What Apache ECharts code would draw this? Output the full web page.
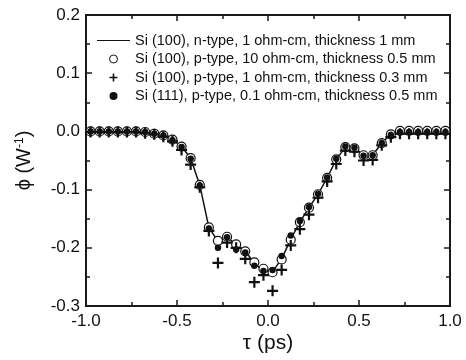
<!DOCTYPE html>
<html>
<head>
<meta charset="utf-8">
<script src="https://cdn.jsdelivr.net/npm/echarts@6/dist/echarts.min.js"></script>
<style>
  html, body { margin: 0; padding: 0; background: #fff; }
  #chart { width: 466px; height: 360px; }
</style>
</head>
<body>
<div id="chart"></div>
<script>
// delay values (ps)
var tau = [-0.975, -0.925, -0.875, -0.825, -0.775, -0.725, -0.675, -0.625, -0.575, -0.525,
  -0.475, -0.425, -0.375, -0.325, -0.275, -0.225, -0.175, -0.125, -0.075, -0.025,
  0.025, 0.075, 0.125, 0.175, 0.225, 0.275, 0.325, 0.375, 0.425, 0.475,
  0.525, 0.575, 0.625, 0.675, 0.725, 0.775, 0.825, 0.875, 0.925, 0.975];

// Si (100), n-type, 1 ohm-cm, 1 mm  (line)
var nType1 = [0.000, 0.000, 0.000, 0.000, 0.000, 0.000, -0.001, -0.004, -0.007, -0.014,
  -0.026, -0.046, -0.092, -0.165, -0.189, -0.181, -0.195, -0.206, -0.226, -0.240,
  -0.241, -0.219, -0.185, -0.156, -0.131, -0.108, -0.080, -0.048, -0.027, -0.029,
  -0.041, -0.041, -0.020, -0.005, 0.000, 0.000, 0.000, 0.000, 0.000, 0.000];

// Si (100), p-type, 10 ohm-cm, 0.5 mm  (open circles)
var pType10 = [0.000, 0.000, 0.000, 0.000, 0.000, 0.000, -0.001, -0.004, -0.007, -0.014,
  -0.026, -0.046, -0.092, -0.165, -0.188, -0.181, -0.194, -0.206, -0.225, -0.236,
  -0.242, -0.220, -0.186, -0.156, -0.131, -0.108, -0.080, -0.048, -0.027, -0.029,
  -0.041, -0.041, -0.020, -0.005, 0.001, 0.001, 0.001, 0.001, 0.001, 0.001];

// Si (100), p-type, 1 ohm-cm, 0.3 mm  (plus)
var pType1 = [-0.001, -0.001, -0.001, -0.001, -0.001, -0.001, -0.003, -0.005, -0.009, -0.017,
  -0.032, -0.057, -0.096, -0.171, -0.226, -0.191, -0.200, -0.219, -0.259, -0.247,
  -0.274, -0.238, -0.196, -0.168, -0.143, -0.114, -0.086, -0.056, -0.033, -0.035,
  -0.050, -0.049, -0.024, -0.010, -0.004, -0.004, -0.004, -0.004, -0.004, -0.004];

// Si (111), p-type, 0.1 ohm-cm, 0.5 mm  (filled dots)
var pType01 = [0.000, 0.000, 0.000, 0.000, 0.000, 0.000, -0.001, -0.004, -0.007, -0.015,
  -0.027, -0.047, -0.093, -0.167, -0.200, -0.182, -0.203, -0.208, -0.231, -0.240,
  -0.238, -0.214, -0.179, -0.154, -0.130, -0.107, -0.079, -0.047, -0.026, -0.028,
  -0.042, -0.041, -0.020, -0.006, -0.001, -0.001, -0.001, -0.001, -0.001, -0.001];

var names = [
  'Si (100), n-type, 1 ohm-cm, thickness 1 mm',
  'Si (100), p-type, 10 ohm-cm, thickness 0.5 mm',
  'Si (100), p-type, 1 ohm-cm, thickness 0.3 mm',
  'Si (111), p-type, 0.1 ohm-cm, thickness 0.5 mm'
];

var xTicks = [-1.0, -0.5, 0.0, 0.5, 1.0];

function pairs(ys) {
  return tau.map(function (t, i) { return [t, ys[i]]; });
}

var FONT = '"Liberation Sans", Arial, sans-serif';
var plusPath = 'path://M4,0h2v4h4v2H6v4H4V6H0V4h4z';
var dashPath = 'path://M0,0h33v1.2h-33z';

var axisCommon = {
  axisLine: { show: true, onZero: false, lineStyle: { color: '#1a1a1a', width: 2 } },
  axisTick: { show: true, inside: true, length: 6, lineStyle: { color: '#1a1a1a', width: 1.5 } },
  minorTick: { show: true, splitNumber: 2, length: 4, lineStyle: { color: '#1a1a1a', width: 1.5 } },
  splitLine: { show: false }
};

var chart = echarts.init(document.getElementById('chart'));
chart.setOption({
  animation: false,
  backgroundColor: '#fff',
  textStyle: { fontFamily: FONT },
  grid: { left: 86, right: 16, top: 15, bottom: 54 },
  legend: {
    orient: 'vertical',
    left: 97,
    top: 33,
    padding: 0,
    itemWidth: 33,
    itemHeight: 8,
    itemGap: 3.5,
    textStyle: { fontFamily: FONT, fontSize: 14.5, color: '#111' },
    data: [
      { name: names[0], icon: dashPath, itemStyle: { color: '#111' } },
      { name: names[1], icon: 'circle', itemStyle: { color: '#fff', borderColor: '#111', borderWidth: 1 } },
      { name: names[2], icon: plusPath, itemStyle: { color: '#111' } },
      { name: names[3], icon: 'circle', itemStyle: { color: '#111' } }
    ]
  },
  xAxis: [
    Object.assign({
      type: 'value', min: -1, max: 1, interval: 0.5, position: 'bottom',
      name: 'τ (ps)', nameLocation: 'middle', nameGap: 27, nameMoveOverlap: false,
      nameTextStyle: { fontFamily: FONT, fontSize: 21, color: '#111' },
      axisLabel: {
        fontFamily: FONT, fontSize: 17, color: '#111', margin: 7,
        formatter: function (v) { return xTicks.indexOf(v) >= 0 ? v.toFixed(1) : ''; }
      }
    }, axisCommon),
    Object.assign({
      type: 'value', min: -1, max: 1, interval: 0.5, position: 'top',
      axisLabel: { show: false }
    }, axisCommon)
  ],
  yAxis: [
    Object.assign({
      type: 'value', min: -0.3, max: 0.2, interval: 0.1, position: 'left',
      name: '{a|ϕ (W}{s|-1}{a|)}', nameLocation: 'middle', nameGap: 52, nameMoveOverlap: false,
      nameTextStyle: {
        rich: {
          a: { fontFamily: FONT, fontSize: 20, color: '#111' },
          s: { fontFamily: FONT, fontSize: 12, color: '#111', padding: [0, 0, 8, 0] }
        }
      },
      axisLabel: {
        fontFamily: FONT, fontSize: 17, color: '#111', margin: 6,
        formatter: function (v) { return v.toFixed(1); }
      }
    }, axisCommon),
    Object.assign({
      type: 'value', min: -0.3, max: 0.2, interval: 0.1, position: 'right',
      axisLabel: { show: false }
    }, axisCommon)
  ],
  series: [
    {
      name: names[0], type: 'line', data: pairs(nType1),
      symbol: 'none', lineStyle: { color: '#111', width: 1.5 }, itemStyle: { color: '#111' },
      z: 1
    },
    {
      name: names[1], type: 'scatter', data: pairs(pType10),
      symbol: 'circle', symbolSize: 9,
      itemStyle: { color: '#fff', borderColor: '#111', borderWidth: 1.2, opacity: 1 },
      z: 2
    },
    {
      name: names[2], type: 'scatter', data: pairs(pType1),
      symbol: plusPath, symbolSize: 11,
      itemStyle: { color: '#111', opacity: 1 },
      z: 3
    },
    {
      name: names[3], type: 'scatter', data: pairs(pType01),
      symbol: 'circle', symbolSize: 6.5,
      itemStyle: { color: '#111', opacity: 1 },
      z: 4
    }
  ]
});
</script>
</body>
</html>
